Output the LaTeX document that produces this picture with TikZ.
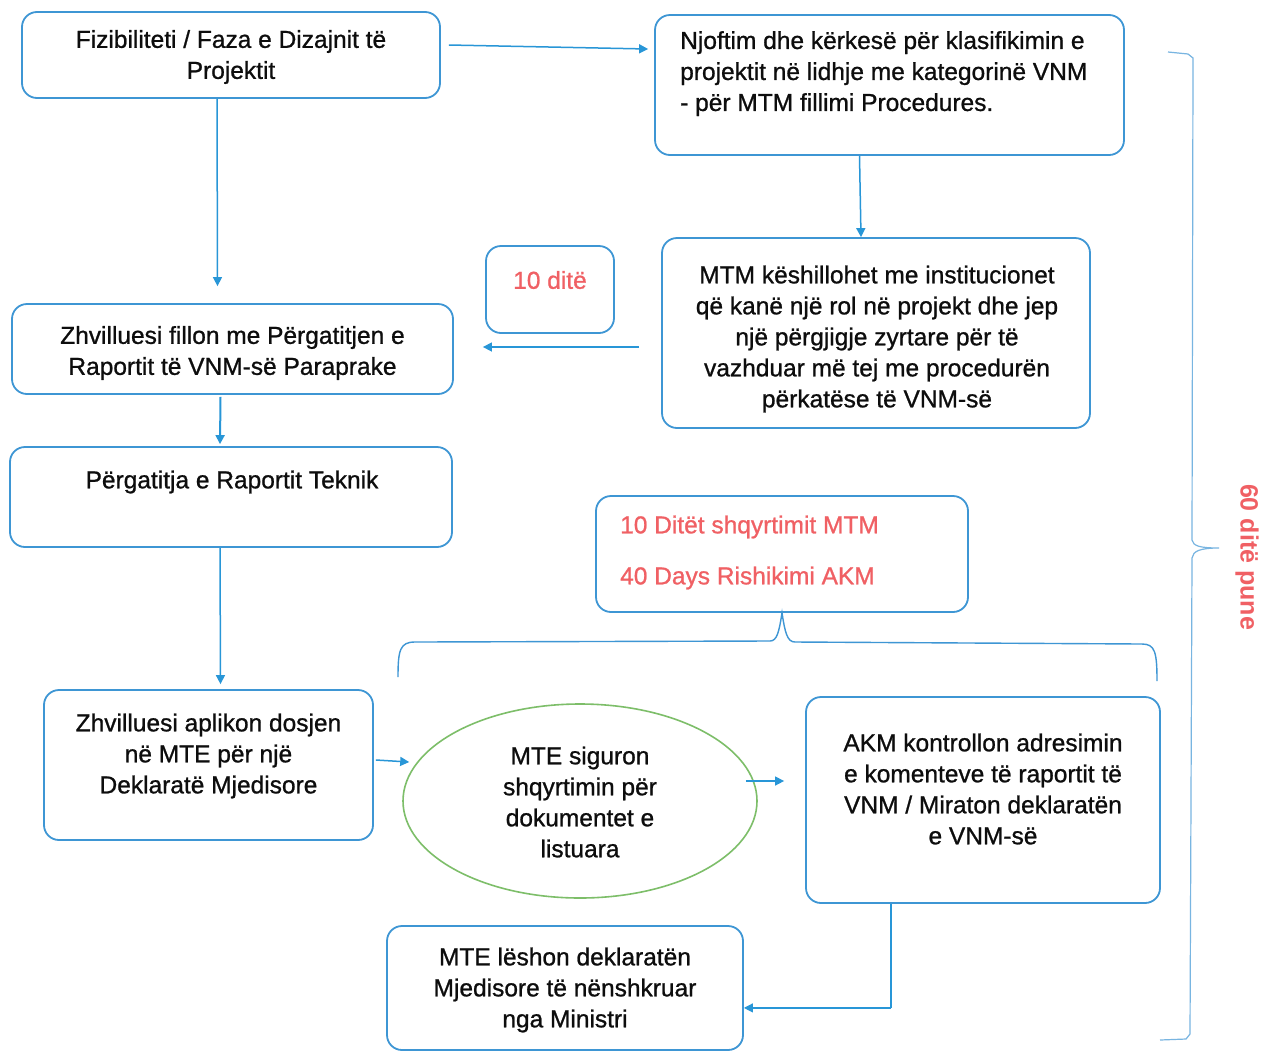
\documentclass[tikz,border=0pt]{standalone}
\usepackage{fontspec}
\setmainfont{Liberation Sans}
\newfontfamily\heavyfont{Liberation Sans}[FakeBold=0.9]
\usetikzlibrary{arrows.meta,calc,shapes.geometric}
\definecolor{bblue}{RGB}{62,150,212}
\definecolor{ablue}{RGB}{40,150,215}
\definecolor{rtxt}{RGB}{240,96,100}
\definecolor{gell}{RGB}{125,190,105}
\begin{document}
\begin{tikzpicture}[x=1pt,y=-1pt,
  box/.style={draw=bblue,line width=1.8pt,rounded corners=15pt,inner sep=0pt},
  txt/.style={align=center,font=\heavyfont\fontsize{24.5}{31}\selectfont,text=black!95,inner sep=0pt},
  rtext/.style={align=left,font=\heavyfont\fontsize{24.5}{31}\selectfont,text=rtxt,inner sep=0pt},
  arr/.style={draw=ablue,line width=1.5pt,-{Triangle[length=9pt,width=9pt]}},
  brc/.style={draw=bblue,line width=1.4pt},
  brc2/.style={draw=bblue!70,line width=1.2pt}]
\useasboundingbox (0,0) rectangle (1276,1050);
\fill[white] (0,0) rectangle (1276,1050);

% boxes
\node[box,minimum width=418pt,minimum height=86pt] (fiz) at (231,55) {};
\node[txt] (fizt) at (231,57) {Fizibiliteti / Faza e Dizajnit të\\Projektit};

\node[box,minimum width=469pt,minimum height=140pt] (njo) at (889.5,85) {};
\node[txt,align=left,anchor=north west] (njot) at (680,31) {Njoftim dhe kërkesë për klasifikimin e\\projektit në lidhje me kategorinë VNM\\- për MTM fillimi Procedures.};

\node[box,minimum width=428pt,minimum height=190pt] (mtm) at (876,333) {};
\node[txt] (mtmt) at (877,339) {MTM këshillohet me institucionet\\që kanë një rol në projekt dhe jep\\një përgjigje zyrtare për të\\vazhduar më tej me procedurën\\përkatëse të VNM-së};

\node[box,minimum width=128pt,minimum height=87pt] (d10) at (550,289.5) {};
\node[rtext] (d10t) at (550,280) {10 ditë};

\node[box,minimum width=441pt,minimum height=90pt] (zhv) at (232.5,349) {};
\node[txt] (zhvt) at (232.5,353) {Zhvilluesi fillon me Përgatitjen e\\Raportit të VNM-së Paraprake};

\node[box,minimum width=442pt,minimum height=100pt] (perg) at (231,497) {};
\node[txt] (pergt) at (232,482) {Përgatitja e Raportit Teknik};

\node[box,minimum width=372pt,minimum height=116pt] (dit) at (782,554) {};
\node[rtext,anchor=west] (dit1) at (620,527) {10 Ditët shqyrtimit MTM};
\node[rtext,anchor=west] (dit2) at (620,578) {40 Days Rishikimi AKM};

\node[box,minimum width=329pt,minimum height=150pt] (apl) at (208.5,765) {};
\node[txt] (aplt) at (208.5,756) {Zhvilluesi aplikon dosjen\\në MTE për një\\Deklaratë Mjedisore};

\node[draw=gell,line width=1.6pt,ellipse,minimum width=354pt,minimum height=194pt,inner sep=0pt] (ell) at (580,801) {};
\node[txt] (ellt) at (580,802) {MTE siguron\\shqyrtimin për\\dokumentet e\\listuara};

\node[box,minimum width=354pt,minimum height=206pt] (akm) at (983,800) {};
\node[txt] (akmt) at (983,789) {AKM kontrollon adresimin\\e komenteve të raportit të\\VNM / Miraton deklaratën\\e VNM-së};

\node[box,minimum width=356pt,minimum height=124pt] (mte) at (565,988) {};
\node[txt] (mtet) at (565,990) {MTE lëshon deklaratën\\Mjedisore të nënshkruar\\nga Ministri};

% connectors
\draw[arr] ($(fiz.east)+(8,-10)$) -- ($(njo.west)+(-6,-36)$);
\draw[arr] ($(fiz.south)+(-14,0)$) -- ($(zhv.north)+(-15,-17)$);
\draw[arr] ($(njo.south)+(-30,0)$) -- ($(mtm.north)+(-15,0)$);
\coordinate (mtml) at ($(mtm.west)+(-22,14)$);
\coordinate (zhvr) at ($(zhv.east)+(29,-2)$);
\draw[arr] (mtml) -- (zhvr);
\draw[arr,line width=2pt] ($(zhv.south)+(-12,2)$) -- ($(perg.north)+(-11,-2)$);
\draw[arr] ($(perg.south)+(-11,0)$) -- ($(apl.north)+(12,-5)$);
\draw[arr] ($(apl.east)+(2,-5)$) -- ($(ell.west)+(7,-39)$);
\draw[arr] ($(ell.east)+(-12,-20)$) -- ($(akm.west)+(-21,-19)$);
\draw[draw=ablue,line width=1.2pt] ($(akm.south)+(-92,0)$) -- ++(0,104) coordinate (akmc);
\draw[arr,line width=1.2pt] (akmc) -- (mte.east |- akmc);

% brace under "10 Ditët" box
\draw[brc] (398,677) .. controls (398,650) and (400,642) .. (415,642) -- (770,641)
  .. controls (777,641) and (779,632) .. (dit.south)
  .. controls (785,632) and (787,642) .. (795,642) -- (1142,644)
  .. controls (1155,644) and (1157,652) .. (1157,681);

% big right brace
\coordinate (btop) at (1168,52);
\coordinate (bbot) at (1160,1040);
\draw[brc2] (btop) -- (1188,54) -- (1193,58) -- (1192,540)
  .. controls (1193,546) and (1200,548) .. (1219,548) coordinate (bmid)
  .. controls (1200,548) and (1193,551) .. (1192,558)
  -- (1190,1034) -- (1186,1039) -- (bbot);
\node[rtext,rotate=-90,font=\fontsize{25}{31}\selectfont\bfseries] (sixty) at (1247,557) {60 ditë pune};
\end{tikzpicture}
\end{document}
